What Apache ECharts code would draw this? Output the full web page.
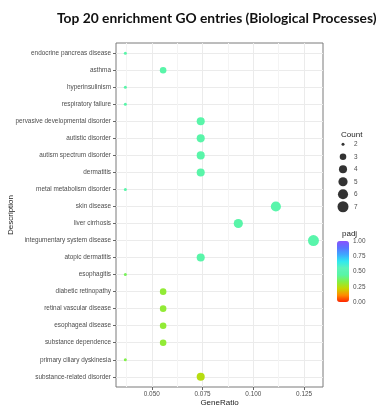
<!DOCTYPE html>
<html>
<head>
<meta charset="utf-8">
<script src="https://cdn.jsdelivr.net/npm/echarts@6/dist/echarts.min.js"></script>
<style>
  html, body { margin: 0; padding: 0; background: #fff; }
  #chart { width: 379px; height: 408px; }
</style>
</head>
<body>
<div id="chart"></div>
<script>
// GO terms, top to bottom
const categories = [
  'endocrine pancreas disease', 'asthma', 'hyperinsulinism', 'respiratory failure',
  'pervasive developmental disorder', 'autistic disorder', 'autism spectrum disorder',
  'dermatitis', 'metal metabolism disorder', 'skin disease', 'liver cirrhosis',
  'integumentary system disease', 'atopic dermatitis', 'esophagitis',
  'diabetic retinopathy', 'retinal vascular disease', 'esophageal disease',
  'substance dependence', 'primary ciliary dyskinesia', 'substance-related disorder'
];
const geneRatio = [
  0.0370, 0.0556, 0.0370, 0.0370, 0.0741, 0.0741, 0.0741, 0.0741, 0.0370, 0.1111,
  0.0926, 0.1296, 0.0741, 0.0370, 0.0556, 0.0556, 0.0556, 0.0556, 0.0370, 0.0741
];
const geneCount = [2, 3, 2, 2, 4, 4, 4, 4, 2, 6, 5, 7, 4, 2, 3, 3, 3, 3, 2, 4];
const padj = [
  0.46, 0.46, 0.46, 0.46, 0.46, 0.46, 0.46, 0.46, 0.46, 0.47,
  0.46, 0.47, 0.46, 0.36, 0.31, 0.31, 0.31, 0.31, 0.34, 0.25
];
const xTicks = [0.050, 0.075, 0.100, 0.125];
const xMinorTicks = [0.0375, 0.0625, 0.0875, 0.1125];
const countLevels = [2, 3, 4, 5, 6, 7];

// area-style size scale for gene counts
function sizeOf(c) { return 3 + 8 * Math.sqrt((c - 2) / 5); }

const rows = categories.map((_, i) => i);
const points = categories.map((name, i) => [geneRatio[i], i, padj[i], geneCount[i], name]);
const legendPoints = countLevels.map((c, i) => [0, i, c]);

const tickFont = { fontFamily: 'Liberation Sans', fontSize: 6.4, color: '#4d4d4d' };

const chart = echarts.init(document.getElementById('chart'), null, { renderer: 'canvas' });
chart.setOption({
  backgroundColor: '#ffffff',
  animation: false,
  title: [
    {
      text: 'Top 20 enrichment GO entries (Biological Processes)',
      left: 52, top: 7,
      textStyle: { fontFamily: 'Lato', fontWeight: 'bold', fontSize: 13.8, color: '#111' }
    },
    {
      text: 'Count', left: 336, top: 126,
      textStyle: { fontFamily: 'Liberation Sans', fontWeight: 'normal', fontSize: 8, color: '#222' }
    },
    {
      text: 'padj', left: 337, top: 225,
      textStyle: { fontFamily: 'Liberation Sans', fontWeight: 'normal', fontSize: 8, color: '#222' }
    }
  ],
  grid: [
    { left: 116, right: 56, top: 43, bottom: 21, show: true, borderColor: '#7a7a7a', borderWidth: 1,
      backgroundColor: '#fff', outerBoundsMode: 'none', containLabel: false },
    { left: 336, width: 14, top: 138, height: 75, outerBoundsMode: 'none', containLabel: false },
    { left: 337, width: 12, top: 241, height: 61, outerBoundsMode: 'none', containLabel: false }
  ],
  xAxis: [
    {
      gridIndex: 0, type: 'value', min: 0.0324, max: 0.1343, position: 'bottom',
      name: 'GeneRatio', nameLocation: 'middle', nameGap: 12, nameMoveOverlap: false,
      nameTextStyle: { fontFamily: 'Liberation Sans', fontSize: 8, color: '#222', verticalAlign: 'top' },
      axisLine: { show: false, onZero: false },
      axisTick: { show: true, customValues: xTicks, length: 3, lineStyle: { color: '#666' } },
      axisLabel: Object.assign({ customValues: xTicks, margin: 4, formatter: v => v.toFixed(3) }, tickFont),
      splitLine: { show: true, lineStyle: { color: '#ebebeb', width: 1 } }
    },
    {
      gridIndex: 0, type: 'value', min: 0.0324, max: 0.1343, position: 'top',
      axisLine: { show: false, onZero: false },
      axisTick: { show: false, customValues: xMinorTicks },
      axisLabel: { show: false, customValues: xMinorTicks },
      splitLine: { show: true, lineStyle: { color: '#f4f4f4', width: 1 } }
    },
    { gridIndex: 1, type: 'value', min: -1, max: 1, show: false, axisLine: { onZero: false } },
    { gridIndex: 2, type: 'value', min: 0, max: 1, show: false, axisLine: { onZero: false } }
  ],
  yAxis: [
    {
      gridIndex: 0, type: 'value', min: -0.6, max: 19.6, inverse: true,
      name: 'Description', nameLocation: 'middle', nameGap: 101, nameRotate: 90, nameMoveOverlap: false,
      nameTextStyle: { fontFamily: 'Liberation Sans', fontSize: 8, color: '#222' },
      axisLine: { show: false, onZero: false },
      axisTick: { show: true, customValues: rows, length: 3, lineStyle: { color: '#666' } },
      axisLabel: Object.assign({ customValues: rows, margin: 5, formatter: v => categories[Math.round(v)] }, tickFont),
      splitLine: { show: true, lineStyle: { color: '#ebebeb', width: 1 } }
    },
    {
      gridIndex: 1, type: 'category', data: countLevels.map(String), position: 'right', inverse: true,
      axisLine: { show: false, onZero: false }, axisTick: { show: false }, splitLine: { show: false },
      axisLabel: Object.assign({ margin: 4 }, tickFont)
    },
    {
      gridIndex: 2, type: 'value', min: 0, max: 1, interval: 0.25, position: 'right',
      axisLine: { show: false, onZero: false }, axisTick: { show: false }, splitLine: { show: false },
      axisLabel: Object.assign({ margin: 4, formatter: v => v.toFixed(2) }, tickFont)
    }
  ],
  visualMap: [{
    type: 'continuous', seriesIndex: 0, dimension: 2, min: 0, max: 1,
    left: 337, top: 241, itemWidth: 12, itemHeight: 61, padding: 0,
    calculable: false, hoverLink: false, realtime: false,
    inRange: {
      color: ['#ff2400', '#ff8a00', '#c8d600', '#84f044', '#58f5a6', '#5ef3ba', '#30e8f0', '#3fa8ff', '#5a74ff', '#8a52ff']
    }
  }],
  series: [
    {
      type: 'scatter', xAxisIndex: 0, yAxisIndex: 0,
      data: points,
      symbolSize: v => sizeOf(v[3]),
      itemStyle: { opacity: 1 },
      z: 5
    },
    {
      type: 'scatter', xAxisIndex: 2, yAxisIndex: 1,
      data: legendPoints,
      symbolSize: v => sizeOf(v[2]),
      itemStyle: { color: '#000' }
    }
  ]
});
</script>
</body>
</html>
